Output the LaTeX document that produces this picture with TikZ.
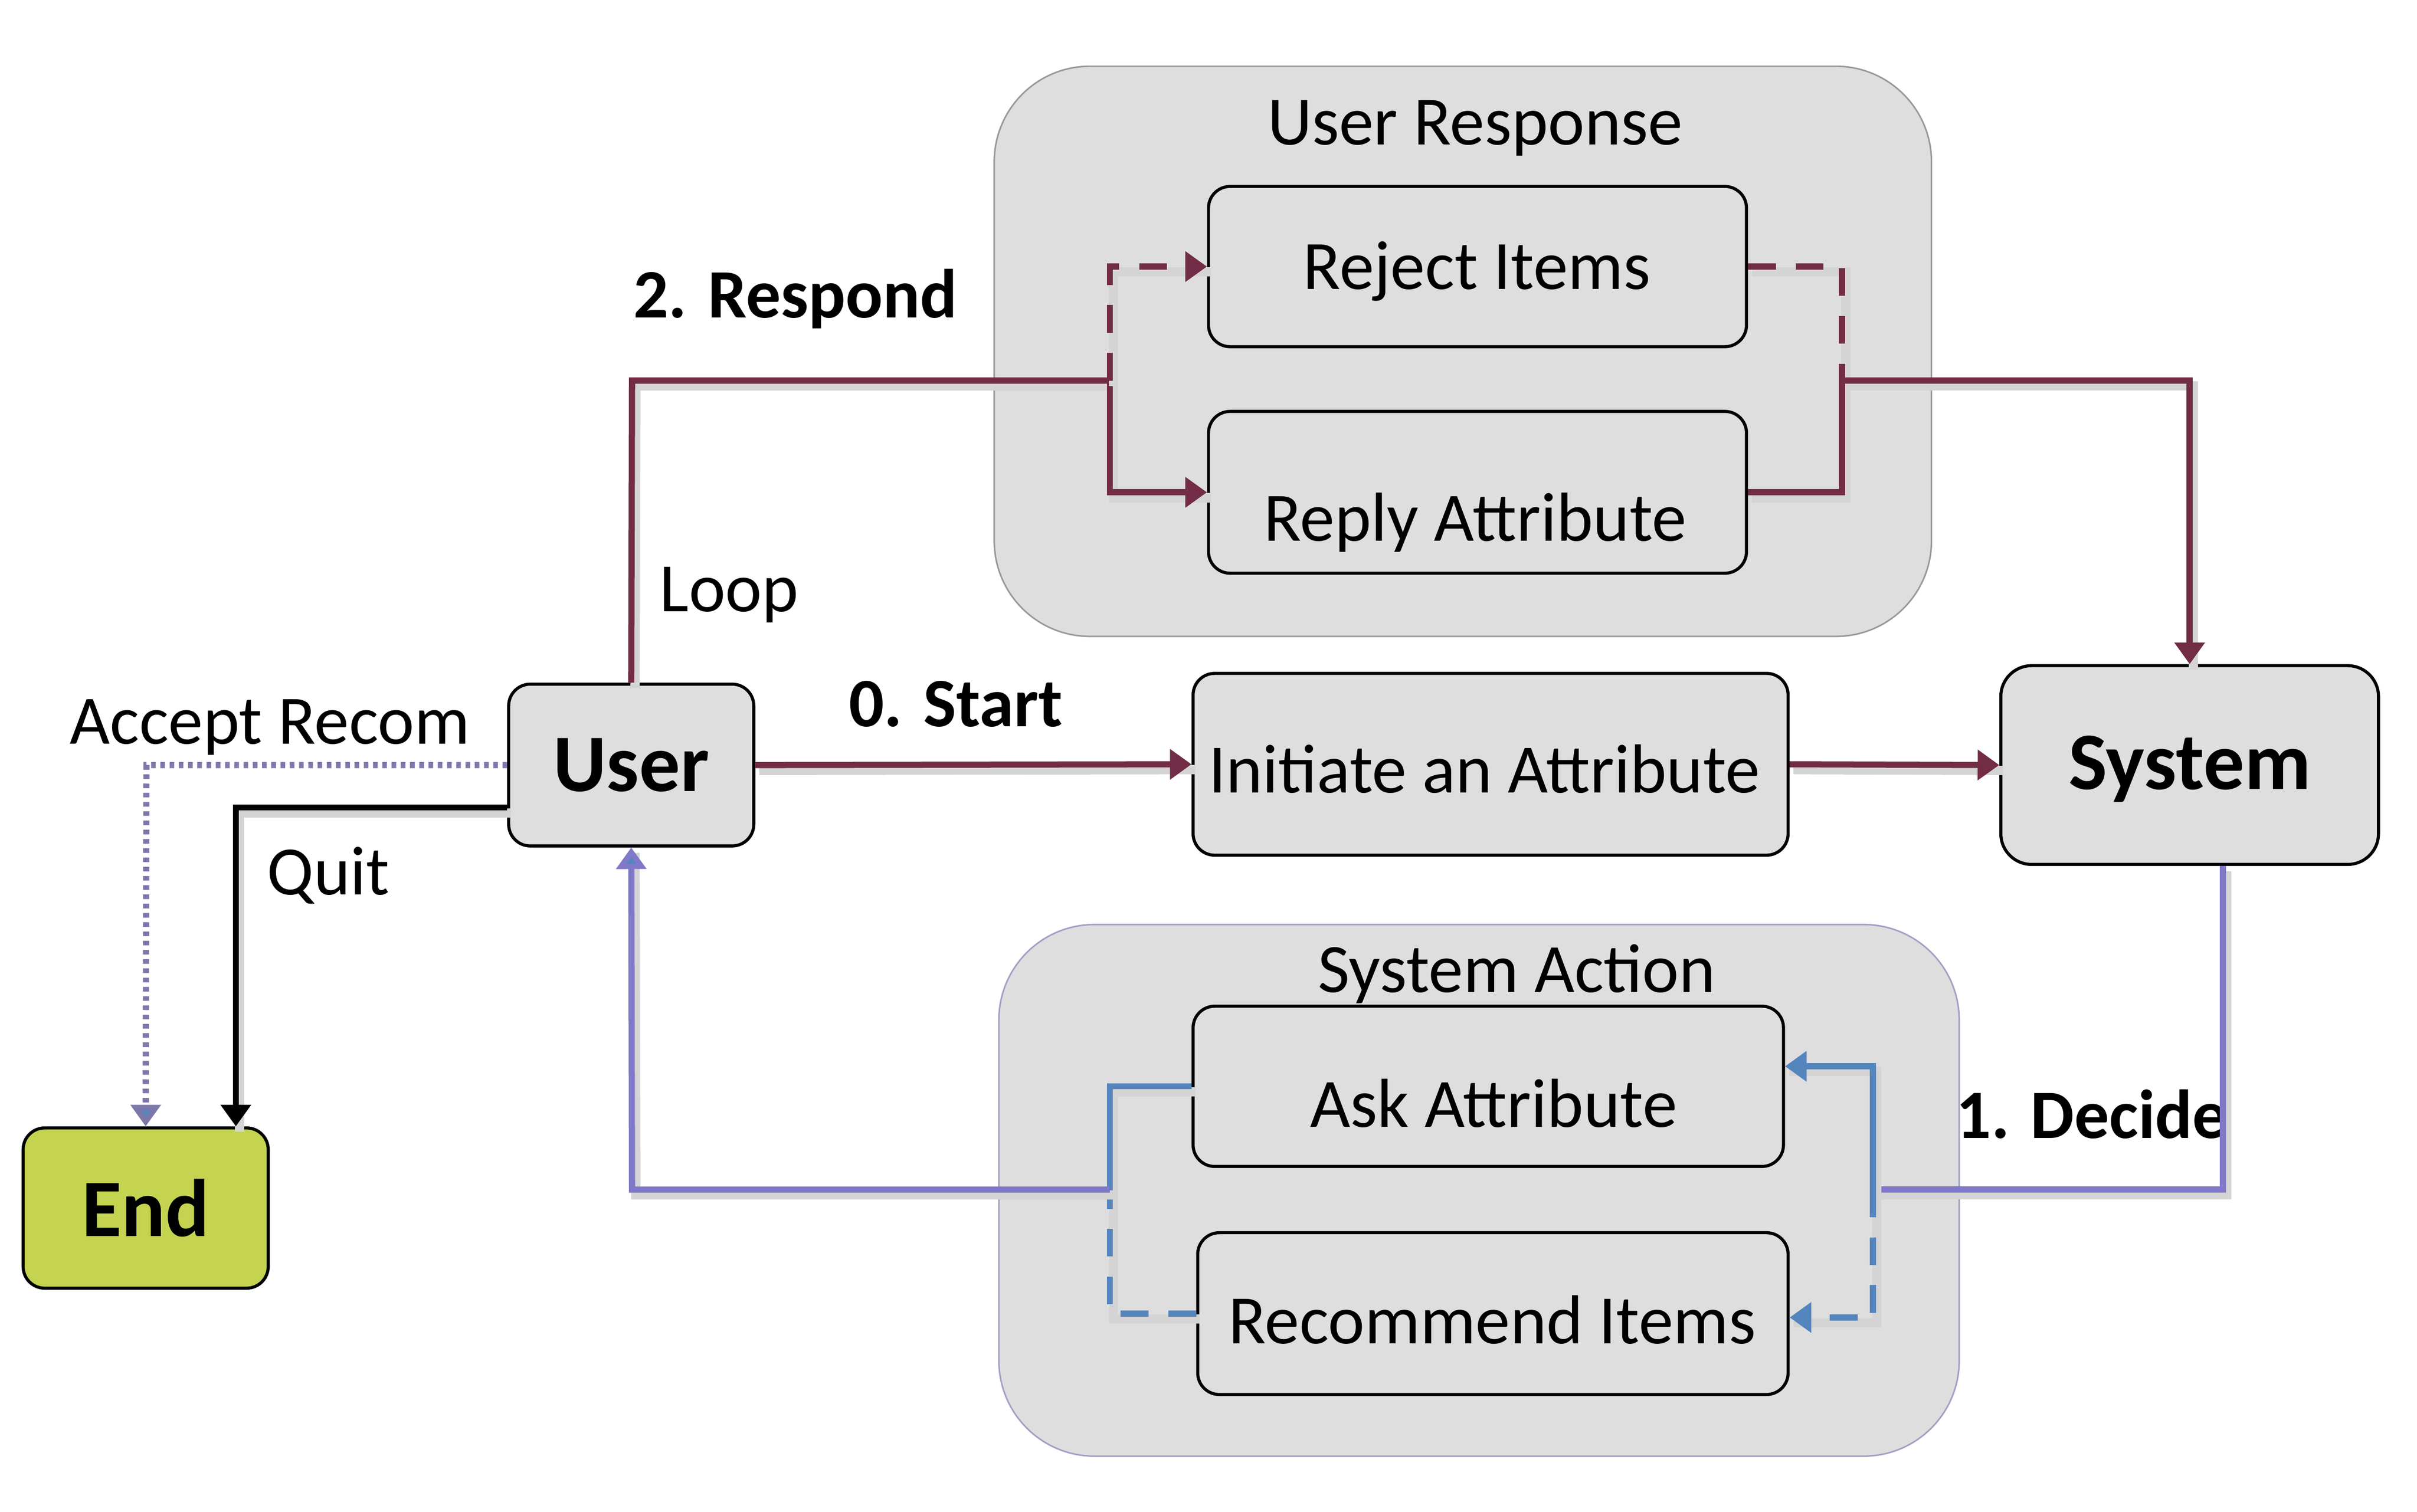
\documentclass[tikz,border=0pt]{standalone}
\usepackage{fontspec}
\setmainfont{Carlito}
\usetikzlibrary{arrows.meta}
\definecolor{boxgray}{RGB}{222,222,222}
\definecolor{maroon}{RGB}{114,44,69}
\definecolor{steel}{RGB}{84,133,188}
\definecolor{lav}{RGB}{128,120,200}
\definecolor{endgreen}{RGB}{196,212,80}
\definecolor{shad}{RGB}{212,212,212}
\definecolor{dotc}{RGB}{125,120,170}
\begin{document}
\begin{tikzpicture}[x=1pt,y=-1pt,
  cont/.style={draw=black!40, line width=1pt, fill=boxgray, rounded corners=62pt, inner sep=0pt},
  bx/.style={draw=black, line width=2pt, fill=boxgray, rounded corners=14pt, inner sep=0pt, font=\fontsize{45}{54}\selectfont},
  big/.style={bx, rounded corners=20pt, font=\fontsize{53}{64}\selectfont\bfseries},
  txt/.style={inner sep=0pt, font=\fontsize{45}{54}\selectfont},
  btxt/.style={inner sep=0pt, font=\fontsize{45}{54}\selectfont\bfseries},
  shadowed/.style={preaction={draw=shad, line width=6pt, -, transform canvas={shift={(2.5pt,-3.5pt)}}}},
  tip/.style={-{Triangle[length=14pt,width=19pt]}},
  btip/.style={-{Triangle[length=14pt,width=19pt,fill=steel]}},
  mline/.style={draw=maroon, line width=4pt, shadowed},
  bline/.style={draw=steel, line width=4pt, shadowed},
  pline/.style={draw=lav, line width=4pt, shadowed},
  dsh/.style={dash pattern=on 18pt off 13pt}
]
\useasboundingbox (0,0) rectangle (1568,981);

% containers
\node[cont, minimum width=608pt, minimum height=370pt] (ur) at (949,228) {};
\node[txt] (urt) at (957,83) {User Response};
\node[cont, draw=lav!80!black!60, minimum width=623pt, minimum height=345pt] (sa) at (959.5,772.5) {};
\node[txt] (sat) at (984,632) {System Action};

% boxes
\node[bx, minimum width=349pt, minimum height=104pt] (reject) at (958.5,173) {};
\node[txt] (rejectt) at (958,176) {Reject Items};
\node[bx, minimum width=349pt, minimum height=105pt] (reply) at (958.5,319.5) {};
\node[txt] (replyt) at (957,339) {Reply Attribute};
\node[big, rounded corners=14pt, minimum width=159pt, minimum height=105pt] (user) at (409.5,496.5) {User};
\node[bx, minimum width=386pt, minimum height=118pt] (init) at (967,496) {};
\node[txt] (initt) at (963,499) {Initiate an Attribute};
\node[big, minimum width=245pt, minimum height=129pt] (system) at (1420.5,496.5) {};
\node[btxt, font=\fontsize{53}{64}\selectfont\bfseries] (systemt) at (1420.5,499) {System};
\node[big, rounded corners=14pt, fill=endgreen, minimum width=159pt, minimum height=104pt] (end) at (94.5,784) {End};
\node[bx, minimum width=383pt, minimum height=104pt] (ask) at (965.5,705) {};
\node[txt] (askt) at (969,716) {Ask Attribute};
\node[bx, minimum width=383pt, minimum height=105pt] (rec) at (968.5,852.5) {};
\node[txt] (rect) at (968,856.5) {Recommend Items};

% labels
\node[btxt] (lresp) at (516,194) {2. Respond};
\node[txt] (lloop) at (473,386) {Loop};
\node[btxt] (lstart) at (620,457) {0. Start};
\node[txt] (lacc) at (175,472) {Accept Recom};
\node[txt] (lquit) at (213,568) {Quit};
\node[btxt] (ldec) at (1357,723) {1. Decide};

% branch points
\coordinate (ra) at (720,247);
\coordinate (rb) at (1195,247);
\coordinate (sb) at (1215,772);
\coordinate (sc) at (720,772);

% user response connectors
\draw[mline] (user.north) -- (410,247) -- (ra);
\draw[mline,tip] (ra) -- (720,319.5) -- (reply.west);
\draw[mline,dsh,tip] (ra) -- (720,173) -- (reject.west);
\draw[mline,dsh] (reject.east) -- (1195,173) -- (rb);
\draw[mline] (reply.east) -- (1195,319.5) -- (rb);
\draw[mline,tip] (rb) -- (1420.5,247) -- (system.north);

% start
\draw[mline,tip] (user.east) -- (init.west);
\draw[mline,tip] (init.east) -- (system.west);

% system action connectors
\draw[pline] (system.south -| 1442,0) -- (1442,772) -- (sb);
\draw[bline,btip] (sb) -- (1215,692) -- (ask.east |- 0,692);
\draw[bline,dsh,btip] (sb) -- (1215,855) -- (rec.east |- 0,855);
\draw[bline] (ask.west) -- (720,705) -- (sc);
\draw[bline,dsh] (rec.west) -- (720,852.5) -- (sc);
\draw[pline,btip] (sc) -- (410,772) -- (user.south);

% end connectors
\draw[draw=black, line width=4pt, shadowed, tip] (user.west |- 0,524) -- (153,524) -- (end.north -| 153,0);
\draw[draw=dotc, line width=4pt, dash pattern=on 3pt off 3pt, btip] (user.west) -- (95,496.5) -- (end.north);
\end{tikzpicture}
\end{document}
